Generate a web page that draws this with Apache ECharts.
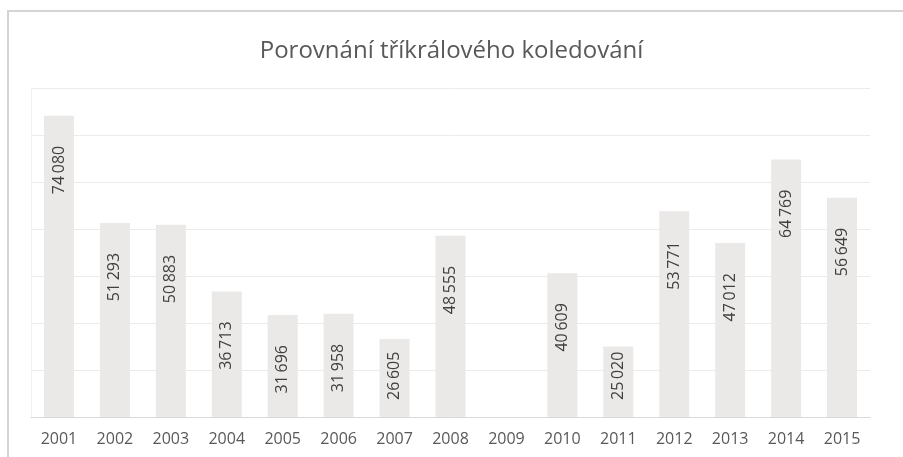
<!DOCTYPE html>
<html><head><meta charset="utf-8">
<script src="https://cdn.jsdelivr.net/npm/echarts@6/dist/echarts.min.js"></script>
<style>html,body{margin:0;padding:0;background:#fff}#c{width:903px;height:457px}</style>
</head><body><div id="c"></div>
<script>
var titleText = 'Porovnání tříkrálového koledování';
var years = ['2001','2002','2003','2004','2005','2006','2007','2008','2009','2010','2011','2012','2013','2014','2015'];
var values = [74080, 51293, 50883, 36713, 31696, 31958, 26605, 48555, null, 40609, 25020, 53771, 47012, 64769, 56649];

function fmt(v){ return String(v).replace(/\B(?=(\d{3})+(?!\d))/g, '\u2009'); }

var labelBase = {
  show: true, rotate: 90, verticalAlign: 'middle',
  fontFamily: 'Open Sans', fontSize: 16, color: '#404040',
  formatter: function(p){ return p.value == null ? '' : fmt(p.value); }
};

var chart = echarts.init(document.getElementById('c'), null, {renderer:'canvas'});
chart.setOption({
  backgroundColor: '#ffffff',
  animation: false,
  graphic: [{
    type: 'rect', silent: true, z: -1,
    shape: {x: 8, y: 11, width: 1200, height: 1000},
    style: {fill: 'none', stroke: '#d4d4d4', lineWidth: 2}
  }],
  title: {
    text: titleText, left: 'center', top: 34,
    textStyle: {fontFamily: 'Open Sans', fontSize: 24, fontWeight: 'normal', color: '#595959'}
  },
  grid: {left: 31, right: 33, top: 88, bottom: 40},
  xAxis: {
    type: 'category', data: years,
    axisLine: {show: true, lineStyle: {color: '#d9d9d9', width: 1}},
    axisTick: {show: false},
    axisLabel: {fontFamily: 'Open Sans', fontSize: 16, color: '#595959', margin: 14}
  },
  yAxis: {
    type: 'value', min: 10000, max: 80000, interval: 10000,
    axisLabel: {show: false},
    axisLine: {show: true, lineStyle: {color: '#f0f0f0'}},
    axisTick: {show: false},
    splitLine: {lineStyle: {color: '#ebebeb', width: 1}}
  },
  series: [{
    type: 'bar', data: values, barWidth: 30,
    itemStyle: {color: '#ebe9e7'},
    label: Object.assign({}, labelBase, {position: 'insideTop', distance: 30, align: 'right'})
  }]
});

// Labels that would not fit below the bar top are pushed up from the base (as in the source)
var base = chart.convertToPixel({yAxisIndex: 0}, 10000);
var labelLen = 52, topGap = 30, bottomGap = 17;
var data = values.map(function(v){
  if (v == null) return v;
  var top = chart.convertToPixel({yAxisIndex: 0}, v);
  if (top + topGap + labelLen > base - bottomGap) {
    return {value: v, label: {position: 'insideBottom', distance: bottomGap, align: 'left'}};
  }
  return v;
});
chart.setOption({series: [{data: data}]});
</script></body></html>
